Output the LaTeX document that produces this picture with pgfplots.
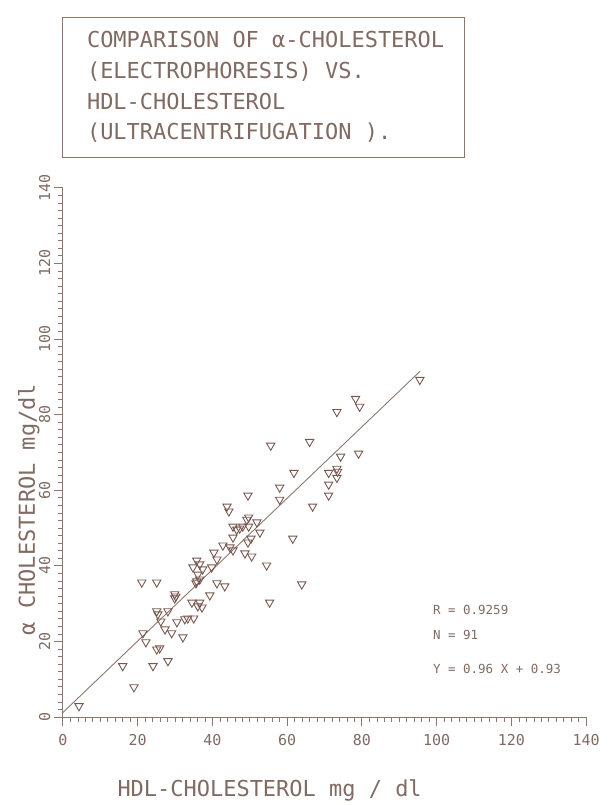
\documentclass[border=0pt]{standalone}
\usepackage{fontspec}
\setmainfont{DejaVu Sans Mono}
\usepackage{pgfplots}
\pgfplotsset{compat=1.18}
\definecolor{ink}{RGB}{118,88,78}
\definecolor{txt}{RGB}{128,106,98}
\definecolor{lin}{RGB}{142,118,108}

\begin{document}
\begin{tikzpicture}
\begin{axis}[
  at={(0,0)}, anchor=south west,
  scale only axis, width=524pt, height=530pt,
  xmin=0, xmax=140, ymin=0, ymax=140,
  axis lines*=left,
  axis line style={lin, line width=1pt},
  xtick={0,20,...,140}, ytick={0,20,...,140},
  minor tick num=9,
  tick align=outside,
  major tick length=9pt, minor tick length=4.5pt,
  every tick/.style={lin, line width=0.9pt},
  every minor tick/.style={lin, line width=0.7pt},
  /pgf/number format/assume math mode=true,
  tick label style={font=\fontsize{15}{15}\selectfont, text=txt},
  xticklabel style={yshift=-5pt},
  yticklabel style={rotate=90, anchor=south, xshift=0pt},
  xlabel={HDL-CHOLESTEROL mg / dl},
  xlabel style={at={(axis description cs:0.395,-0.151)}, anchor=base, font=\fontsize{22}{22}\selectfont, text=txt},
  ylabel={α CHOLESTEROL mg/dl},
  ylabel style={at={(axis description cs:-0.065,0.392)}, anchor=center, font=\fontsize{22}{22}\selectfont, text=txt},
  clip=false,
]
\addplot[only marks, mark=triangle, mark size=4.8pt,
  mark options={rotate=180, draw=ink, fill=none, line width=0.9pt}]
  table {
x y
95.5 89.2
78.3 84.2
79.4 82.1
73.3 80.7
66.0 72.8
79.1 69.7
74.3 68.9
61.8 64.6
71.1 64.6
73.3 65.7
73.3 63.3
71.1 61.5
71.1 58.6
66.8 55.7
58.0 60.7
58.0 57.5
61.5 47.2
63.9 35.1
55.6 71.8
49.5 58.6
43.9 55.7
44.4 54.4
49.7 52.8
51.9 51.5
45.5 50.4
48.1 50.4
49.7 50.4
46.5 49.6
52.7 48.8
50.3 47.2
45.5 47.5
49.5 46.2
42.8 45.4
44.7 44.9
45.5 44.1
40.4 43.5
48.7 43.3
50.5 42.5
41.2 41.7
35.8 41.4
36.6 40.4
54.5 40.1
34.8 39.6
37.4 39.1
39.8 39.6
36.1 37.7
35.8 35.9
41.2 35.4
43.3 34.6
39.3 32.2
36.6 30.3
55.3 30.3
36.1 29.3
21.1 35.6
25.1 35.6
29.9 32.5
29.9 31.4
34.5 30.3
25.1 28.0
25.4 27.2
28.1 28.0
26.2 25.3
30.5 25.1
32.6 25.9
33.4 26.1
35.0 26.1
27.3 23.2
29.1 22.2
21.4 22.2
32.1 21.1
22.2 19.8
25.1 17.9
25.9 18.2
16.0 13.5
24.1 13.5
28.1 14.8
19.0 7.9
4.3 2.9
36.6 36.4
37.2 29.0
47.3 49.9
49.2 52.2
35.6 35.4
30.2 31.9
73.5 64.9
};
\addplot[lin, line width=0.9pt] coordinates {(0,1.2) (95.6,91.5)};

% annotation
\node[anchor=base west, font=\fontsize{12.5}{12.5}\selectfont, text=txt] at (axis cs:98.1,27.2) {R = 0.9259};
\node[anchor=base west, font=\fontsize{12.5}{12.5}\selectfont, text=txt] at (axis cs:98.1,20.6) {N = 91};
\node[anchor=base west, font=\fontsize{12.5}{12.5}\selectfont, text=txt] at (axis cs:98.1,11.6) {Y = 0.96 X + 0.93};

% title box
\draw[lin, line width=1pt] (axis cs:0,184.9) rectangle (axis cs:107.4,148.1);
\node[anchor=base west, font=\fontsize{22}{22}\selectfont, text=txt, inner sep=0pt] at (axis cs:6.4,177.0) {COMPARISON OF α-CHOLESTEROL};
\node[anchor=base west, font=\fontsize{22}{22}\selectfont, text=txt, inner sep=0pt] at (axis cs:6.4,168.8) {(ELECTROPHORESIS) VS.};
\node[anchor=base west, font=\fontsize{22}{22}\selectfont, text=txt, inner sep=0pt] at (axis cs:6.4,160.6) {HDL-CHOLESTEROL};
\node[anchor=base west, font=\fontsize{22}{22}\selectfont, text=txt, inner sep=0pt] at (axis cs:6.4,152.7) {(ULTRACENTRIFUGATION ).};
\end{axis}
\path (-63pt,-87pt) rectangle (547pt,718pt);
\end{tikzpicture}
\end{document}
